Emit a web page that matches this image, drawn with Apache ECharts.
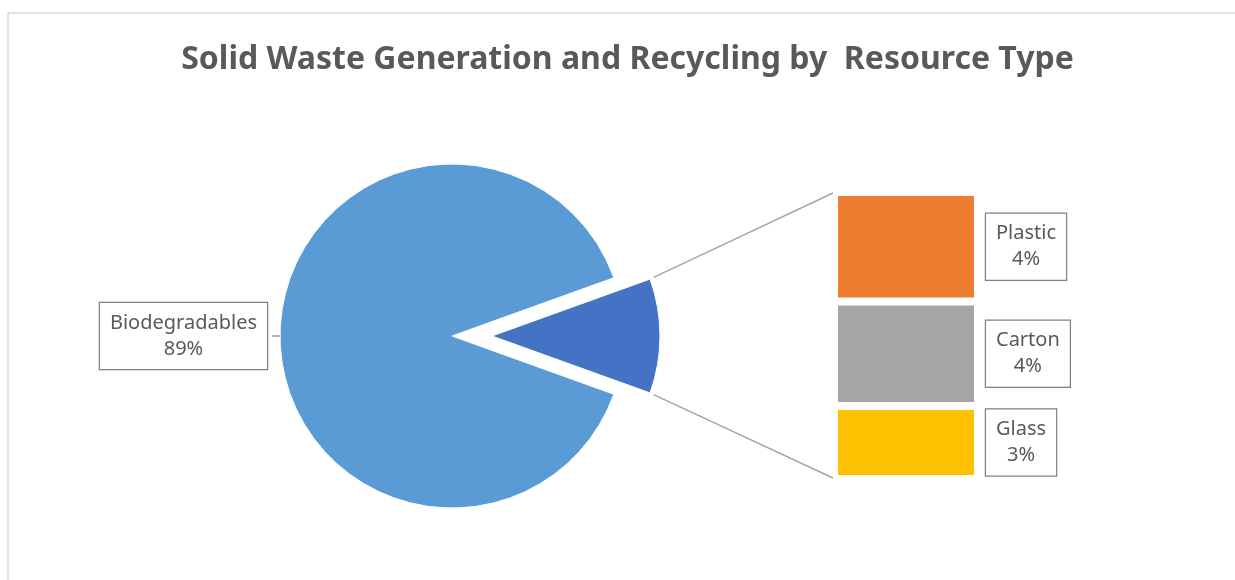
<!DOCTYPE html>
<html>
<head>
<meta charset="utf-8">
<title>Solid Waste Generation and Recycling by Resource Type</title>
<script src="https://cdn.jsdelivr.net/npm/echarts@6/dist/echarts.min.js"></script>
<style>
  html, body { margin: 0; padding: 0; background: #fff; }
  #main { width: 1235px; height: 580px; }
</style>
</head>
<body>
<div id="main"></div>
<script>
// data (percent of all solid waste)
var mainName = 'Biodegradables';
var mainValue = 89.0;
var otherNames = ['Plastic', 'Carton', 'Glass'];
var otherValues = [4.2, 4.0, 2.8];
var otherColors = ['#ed7d31', '#a5a5a5', '#ffc000'];

var otherSum = otherValues.reduce(function (a, b) { return a + b; }, 0);
var total = mainValue + otherSum;

// layout
var pieC = [452, 336], pieR = 172;
var explode = 40, sliceR = 168;
var barLeft = 834, barTop = 192, barW = 144, barH = 287;
var textColor = '#595959';
var boxColor = '#7f7f7f';
var fontFamily = 'Noto Sans';

var halfAngle = 180 * otherSum / total; // degrees
var startAngle = halfAngle;

// callout-like box, lines centred inside
var labelBox = {
	color : textColor,
	fontFamily : fontFamily,
	fontSize : 20,
	lineHeight : 26,
	backgroundColor : '#fff',
	borderColor : boxColor,
	borderWidth : 1.2,
	padding : [7, 10],
	rich : {
		c : {
			align : 'center',
			color : textColor,
			fontFamily : fontFamily,
			fontSize : 20,
			lineHeight : 26
		}
	}
};
function boxText(name, pct) {
	return '{c|' + name + '}\n{c|' + Math.round(pct) + '%}';
}

// connector lines from the slice corners to the bar stack corners
var rad = halfAngle * Math.PI / 180;
var sliceCx = pieC[0] + explode;
var topCorner = [sliceCx + sliceR * Math.cos(rad), pieC[1] - sliceR * Math.sin(rad)];
var botCorner = [sliceCx + sliceR * Math.cos(rad), pieC[1] + sliceR * Math.sin(rad)];
function nudge(p, q, d) {
	var dx = q[0] - p[0], dy = q[1] - p[1], l = Math.sqrt(dx * dx + dy * dy);
	return [p[0] + dx / l * d, p[1] + dy / l * d];
}
var topEnd = [barLeft - 1, barTop + 1];
var botEnd = [barLeft - 1, barTop + barH - 1];
var topStart = nudge(topCorner, topEnd, 4);
var botStart = nudge(botCorner, botEnd, 4);

var barSeries = [];
for (var i = 0; i < otherNames.length; i++) {
	barSeries.push({
		name : otherNames[i],
		type : 'bar',
		stack : 'other',
		barWidth : '100%',
		barCategoryGap : 0,
		silent : true,
		data : [otherValues[i]],
		itemStyle : {
			color : otherColors[i],
			borderColor : '#fff',
			borderWidth : 4
		},
		label : Object.assign({
			show : true,
			position : 'right',
			distance : 8,
			formatter : function (p) {
				return boxText(p.seriesName, p.value);
			}
		}, labelBox)
	});
}

var myChart = echarts.init(document.getElementById('main'));
var option = {
	backgroundColor : '#fff',
	animation : false,
	title : {
		text : 'Solid Waste Generation and Recycling by  Resource Type',
		left : 627.5,
		textAlign : 'center',
		top : 44,
		padding : 0,
		textStyle : {
			color : textColor,
			fontFamily : fontFamily,
			fontWeight : 'bold',
			fontSize : 32
		}
	},
	grid : {
		left : barLeft,
		top : barTop,
		width : barW,
		height : barH
	},
	xAxis : {
		type : 'category',
		show : false,
		data : ['Other']
	},
	yAxis : {
		type : 'value',
		show : false,
		inverse : true,
		min : 0,
		max : otherSum
	},
	graphic : [
		{
			type : 'rect',
			shape : { x : 8, y : 13, width : 1400, height : 800 },
			style : { fill : 'none', stroke : '#d9d9d9', lineWidth : 1.5 },
			silent : true
		},
		{
			type : 'line',
			shape : { x1 : topStart[0], y1 : topStart[1], x2 : topEnd[0], y2 : topEnd[1] },
			style : { stroke : '#a6a6a6', lineWidth : 1.5 },
			silent : true
		},
		{
			type : 'line',
			shape : { x1 : botStart[0], y1 : botStart[1], x2 : botEnd[0], y2 : botEnd[1] },
			style : { stroke : '#a6a6a6', lineWidth : 1.5 },
			silent : true
		}
	],
	series : [
		{
			type : 'pie',
			center : pieC,
			radius : pieR,
			startAngle : startAngle,
			clockwise : true,
			silent : true,
			avoidLabelOverlap : false,
			itemStyle : { borderColor : '#fff', borderWidth : 1 },
			label : Object.assign({
				show : true,
				position : 'outside',
				formatter : function (p) {
					return boxText(p.name, p.percent);
				}
			}, labelBox),
			labelLine : {
				show : true,
				length : 8,
				length2 : 0,
				lineStyle : { color : boxColor, width : 1.2 }
			},
			data : [
				{
					name : 'Other',
					value : otherSum,
					itemStyle : { color : 'rgba(0,0,0,0)', borderWidth : 0 },
					label : { show : false },
					labelLine : { show : false }
				},
				{
					name : mainName,
					value : mainValue,
					itemStyle : { color : '#5b9bd5' }
				}
			]
		},
		{
			type : 'pie',
			center : [sliceCx, pieC[1]],
			radius : sliceR,
			startAngle : startAngle,
			clockwise : true,
			silent : true,
			label : { show : false },
			labelLine : { show : false },
			itemStyle : { borderColor : '#fff', borderWidth : 1 },
			data : [
				{ name : 'Other', value : otherSum, itemStyle : { color : '#4472c4' } },
				{ name : mainName, value : mainValue, itemStyle : { color : 'rgba(0,0,0,0)', borderWidth : 0 } }
			]
		}
	].concat(barSeries)
};
myChart.setOption(option);
</script>
</body>
</html>
